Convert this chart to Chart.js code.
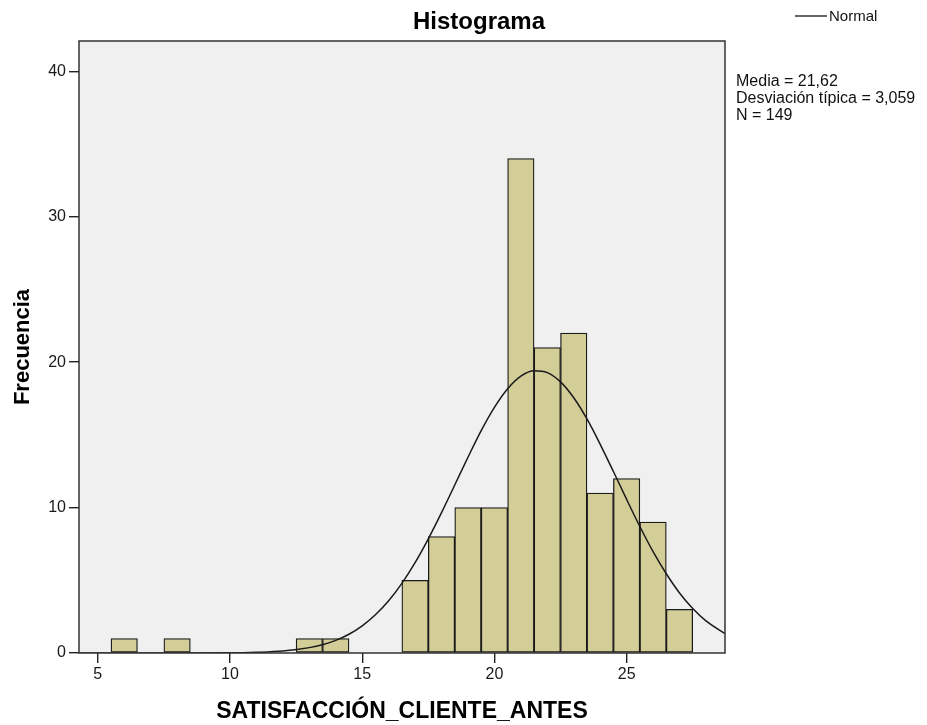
<!DOCTYPE html>
<html>
<head>
<meta charset="utf-8">
<title>Histograma</title>
<script src="https://cdn.jsdelivr.net/npm/chart.js@4"></script>
<style>
  html, body { margin: 0; padding: 0; background: #fff; }
  #wrap { width: 927px; height: 725px; }
</style>
</head>
<body>
<div id="wrap"><canvas id="histChart" width="927" height="725"></canvas></div>
<script>
// ===============================
// Data
// ===============================
const binCenters = [6, 8, 13, 14, 17, 18, 19, 20, 21, 22, 23, 24, 25, 26, 27];
const frequencies = [1, 1, 1, 1, 5, 8, 10, 10, 34, 21, 22, 11, 12, 9, 3];

// Normal curve as traced on the picture
const curveX = [4.3, 6, 8, 10, 11, 12, 13, 13.5, 14, 14.5, 15, 15.5, 16, 16.5, 17, 17.5,
  18, 18.5, 19, 19.5, 20, 20.5, 21, 21.5, 22, 22.5, 23, 23.5, 24, 24.5, 25, 25.5,
  26, 26.5, 27, 27.5, 28, 28.72];
const curveY = [0, 0, 0, 0.01, 0.05, 0.14, 0.37, 0.57, 0.87, 1.29, 1.87, 2.63, 3.59, 4.79, 6.21, 7.85,
  9.65, 11.55, 13.46, 15.29, 16.89, 18.17, 19.04, 19.41, 19.28, 18.64, 17.55, 16.09, 14.35, 12.48, 10.56, 8.70,
  6.97, 5.45, 4.13, 3.06, 2.21, 1.33];

const xTicks = [5, 10, 15, 20, 25];
const yTicks = [0, 10, 20, 30, 40];

const statLines = ["Media = 21,62", "Desviación típica = 3,059", "N = 149"];

const FONT = "'Liberation Sans', Arial, sans-serif";

// -------------------------------
// Plugin: background, frame, titles, legend, stats
// -------------------------------
const spssDecor = {
  id: "spssDecor",
  beforeDraw(chart) {
    const { ctx, chartArea: a } = chart;
    ctx.save();
    ctx.fillStyle = "#ffffff";
    ctx.fillRect(0, 0, chart.width, chart.height);
    ctx.fillStyle = "#f0f0f0";
    ctx.fillRect(a.left, a.top, a.right - a.left, a.bottom - a.top);
    ctx.restore();
  },
  afterDraw(chart) {
    const { ctx, chartArea: a } = chart;
    ctx.save();

    // frame around plot area
    ctx.strokeStyle = "#333";
    ctx.lineWidth = 1.5;
    ctx.strokeRect(a.left, a.top, a.right - a.left, a.bottom - a.top);

    ctx.fillStyle = "#000";

    // chart title
    ctx.font = "bold 24px " + FONT;
    ctx.textAlign = "center";
    ctx.textBaseline = "alphabetic";
    ctx.fillText("Histograma", 479, 29);

    // x axis title
    ctx.font = "bold 23px " + FONT;
    ctx.fillText("SATISFACCIÓN_CLIENTE_ANTES", (a.left + a.right) / 2, 718);

    // y axis title
    ctx.save();
    ctx.translate(29, (a.top + a.bottom) / 2);
    ctx.rotate(-Math.PI / 2);
    ctx.font = "bold 22px " + FONT;
    ctx.fillText("Frecuencia", 0, 0);
    ctx.restore();

    // legend
    ctx.strokeStyle = "#222";
    ctx.lineWidth = 1.4;
    ctx.beginPath();
    ctx.moveTo(795, 16);
    ctx.lineTo(827, 16);
    ctx.stroke();
    ctx.font = "15px " + FONT;
    ctx.textAlign = "left";
    ctx.fillStyle = "#111";
    ctx.fillText("Normal", 829, 21);

    // stats box
    ctx.font = "16px " + FONT;
    statLines.forEach((line, i) => {
      ctx.fillText(line, 736, 86 + i * 17);
    });

    ctx.restore();
  }
};

// -------------------------------
// Chart
// -------------------------------
const ctx = document.getElementById("histChart").getContext("2d");

new Chart(ctx, {
  type: "bar",
  data: {
    datasets: [
      {
        type: "line",
        label: "Normal",
        data: curveX.map((x, i) => ({ x: x, y: curveY[i] })),
        borderColor: "#1a1a1a",
        borderWidth: 1.5,
        pointRadius: 0,
        cubicInterpolationMode: "monotone",
        fill: false,
        order: 0
      },
      {
        type: "bar",
        label: "Frecuencia",
        data: binCenters.map((x, i) => ({ x: x, y: frequencies[i] })),
        backgroundColor: "#d3ce98",
        borderColor: "#1a1a1a",
        borderWidth: 1.3,
        borderSkipped: false,
        barPercentage: 1,
        categoryPercentage: 1,
        order: 1
      }
    ]
  },
  options: {
    responsive: false,
    animation: false,
    layout: {
      padding: { left: 0, right: 202, top: 41, bottom: 0 }
    },
    plugins: {
      legend: { display: false },
      tooltip: { enabled: false },
      title: { display: false }
    },
    scales: {
      x: {
        type: "linear",
        offset: false,
        min: 4.29,
        max: 28.72,
        afterBuildTicks: scale => {
          scale.ticks = xTicks.map(v => ({ value: v }));
        },
        afterFit: scale => {
          scale.height = 72;
        },
        grid: {
          offset: false,
          drawOnChartArea: false,
          drawTicks: true,
          tickLength: 10,
          color: "#222",
          lineWidth: 1.4
        },
        border: { display: false },
        ticks: {
          color: "#1a1a1a",
          padding: 2,
          maxRotation: 0,
          font: { family: FONT, size: 16 }
        }
      },
      y: {
        type: "linear",
        min: 0,
        max: 42.08,
        afterBuildTicks: scale => {
          scale.ticks = yTicks.map(v => ({ value: v }));
        },
        afterFit: scale => {
          scale.width = 79;
        },
        grid: {
          drawOnChartArea: false,
          drawTicks: true,
          tickLength: 10,
          color: "#222",
          lineWidth: 1.4
        },
        border: { display: false },
        ticks: {
          color: "#1a1a1a",
          padding: 3,
          font: { family: FONT, size: 16 }
        }
      }
    }
  },
  plugins: [spssDecor]
});
</script>
</body>
</html>
